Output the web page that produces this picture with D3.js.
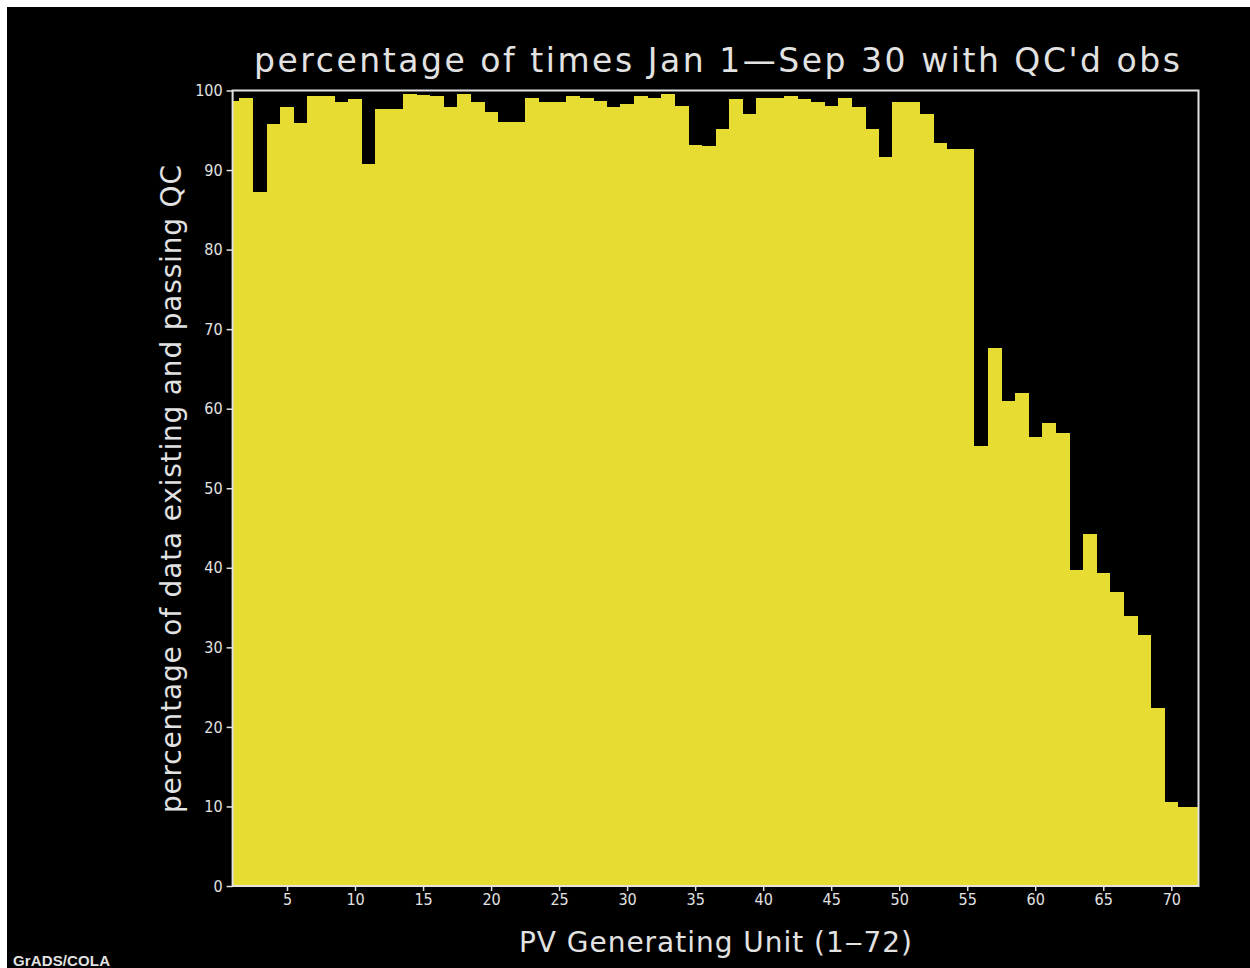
<!DOCTYPE html>
<html>
<head>
<meta charset="utf-8">
<script src="https://cdn.jsdelivr.net/npm/d3@7"></script>
<style>
  html, body { margin: 0; padding: 0; background: #ffffff; }
  svg { display: block; }
</style>
</head>
<body>
<div id="chart"></div>
<script>
// ------------------------------------------------------------------
//  data
// ------------------------------------------------------------------
const units = d3.range(1, 73); // PV units 1..72
const pct = [
  98.7, 99.0, 87.3, 95.8, 97.9, 95.9, 99.3, 99.3, 98.5, 98.9,
  90.7, 97.7, 97.7, 99.5, 99.4, 99.3, 97.9, 99.5, 98.5, 97.3,
  96.0, 96.1, 99.0, 98.5, 98.5, 99.3, 99.0, 98.7, 97.9, 98.3,
  99.3, 99.1, 99.5, 98.1, 93.2, 93.0, 95.2, 98.9, 97.1, 99.0,
  99.0, 99.3, 98.9, 98.5, 98.1, 99.0, 97.9, 95.2, 91.7, 98.5,
  98.5, 97.1, 93.4, 92.6, 92.6, 55.3, 67.6, 61.0, 62.0, 56.4,
  58.2, 57.0, 39.7, 44.2, 39.3, 36.9, 34.0, 31.5, 22.4, 10.5,
  9.9, 9.9
];
const yTicks = d3.range(0, 101, 10);
const xTicks = d3.range(5, 71, 5);

const titleText = "percentage of times Jan 1\u2014Sep 30 with QC'd obs";
const yLabelText = "percentage of data existing and passing QC";
const xLabelText = "PV Generating Unit (1\u201272)";

// ------------------------------------------------------------------
//  layout
// ------------------------------------------------------------------
const W = 1250, H = 968;
const plot = { left: 232.6, right: 1198.5, top: 90.5, bottom: 886 };
const fg = "#e2e2e2";
const barColor = "#e6dc32";
const font = "'DejaVu Sans', sans-serif";

const svg = d3.select("#chart").append("svg")
  .attr("width", W)
  .attr("height", H);

// black canvas (small white margin top/left like the screenshot)
svg.append("rect")
  .attr("x", 7).attr("y", 7)
  .attr("width", W - 7).attr("height", H - 7)
  .attr("fill", "#000");

const x = d3.scaleLinear().domain([1, 72]).range([plot.left, plot.right]);
const y = d3.scaleLinear().domain([0, 100]).range([plot.bottom, plot.top]);

svg.append("clipPath").attr("id", "plot-clip")
  .append("rect")
  .attr("x", plot.left).attr("y", plot.top)
  .attr("width", plot.right - plot.left)
  .attr("height", plot.bottom - plot.top);

// bars centred on each unit, clipped at the frame (first/last are half bars)
svg.append("g")
  .attr("clip-path", "url(#plot-clip)")
  .selectAll("rect")
  .data(units)
  .join("rect")
  .attr("x", (d) => x(d - 0.5))
  .attr("width", (d) => x(d + 0.5) - x(d - 0.5) + 0.4)
  .attr("y", (d, i) => y(pct[i]))
  .attr("height", (d, i) => y(0) - y(pct[i]))
  .attr("fill", barColor)
  .attr("shape-rendering", "crispEdges");

// frame
svg.append("rect")
  .attr("x", plot.left).attr("y", plot.top)
  .attr("width", plot.right - plot.left)
  .attr("height", plot.bottom - plot.top)
  .attr("fill", "none")
  .attr("stroke", fg)
  .attr("stroke-width", 2);

// y axis
const yAxis = svg.append("g")
  .attr("transform", `translate(${plot.left},0)`)
  .call(d3.axisLeft(y).tickValues(yTicks).tickSize(6).tickPadding(4).tickFormat(d3.format("d")));

// x axis
const xAxis = svg.append("g")
  .attr("transform", `translate(0,${plot.bottom})`)
  .call(d3.axisBottom(x).tickValues(xTicks).tickSize(5).tickPadding(3).tickFormat(d3.format("d")));

[yAxis, xAxis].forEach((g) => {
  g.select(".domain").remove();
  g.selectAll(".tick line").attr("stroke", fg).attr("stroke-width", 1.5);
  g.selectAll(".tick text")
    .attr("fill", fg)
    .style("font-family", "'DejaVu Sans Condensed', 'DejaVu Sans', sans-serif")
    .style("font-size", "16px");
});

// title
svg.append("text")
  .attr("x", 254).attr("y", 72)
  .attr("textLength", 926)
  .attr("lengthAdjust", "spacing")
  .attr("fill", fg)
  .style("font-family", font)
  .style("font-size", "33px")
  .text(titleText);

// y label
svg.append("text")
  .attr("transform", "translate(181,813) rotate(-90)")
  .attr("textLength", 648)
  .attr("lengthAdjust", "spacing")
  .attr("fill", fg)
  .style("font-family", font)
  .style("font-size", "28px")
  .text(yLabelText);

// x label
svg.append("text")
  .attr("x", 519).attr("y", 952)
  .attr("textLength", 393)
  .attr("lengthAdjust", "spacing")
  .attr("fill", fg)
  .style("font-family", font)
  .style("font-size", "28px")
  .text(xLabelText);

// GrADS stamp
svg.append("text")
  .attr("x", 13).attr("y", 966)
  .attr("textLength", 97)
  .attr("fill", fg)
  .style("font-family", "'Liberation Sans', sans-serif")
  .style("font-weight", "bold")
  .style("font-size", "15px")
  .text("GrADS/COLA");
</script>
</body>
</html>
